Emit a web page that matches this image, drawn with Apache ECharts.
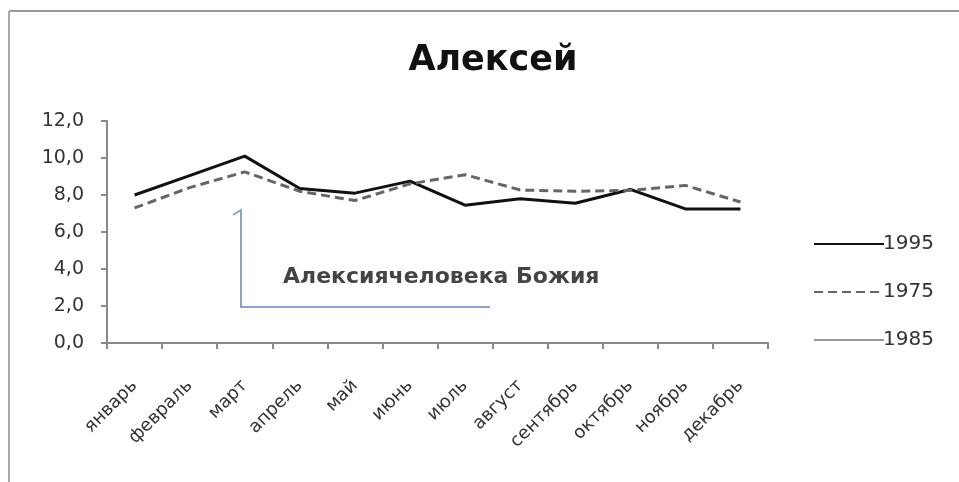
<!DOCTYPE html>
<html>
<head>
<meta charset="utf-8">
<script src="https://cdn.jsdelivr.net/npm/echarts@6/dist/echarts.min.js"></script>
<style>html,body{margin:0;padding:0;background:#fff}#c{width:959px;height:482px}</style>
</head>
<body>
<div id="c"></div>
<script>
var categories = ['январь','февраль','март','апрель','май','июнь','июль','август','сентябрь','октябрь','ноябрь','декабрь'];
var s1995 = [8.0, 9.05, 10.1, 8.35, 8.1, 8.75, 7.45, 7.8, 7.55, 8.3, 7.25, 7.25];
var s1975 = [7.3, 8.4, 9.25, 8.2, 7.7, 8.6, 9.1, 8.27, 8.2, 8.25, 8.52, 7.62];
var s1985 = [null, null, null, null, null, null, null, null, null, null, null, null];
var yTicks = [0, 2, 4, 6, 8, 10, 12];
var titleText = 'Алексей';
var noteText = 'Алексиячеловека Божия';

var chart = echarts.init(document.getElementById('c'));
chart.setOption({
  animation: false,
  backgroundColor: '#fff',
  title: {
    text: titleText, left: 488, top: 38, textAlign: 'center',
    textStyle: {fontFamily: 'DejaVu Sans', fontWeight: 'bold', fontSize: 35, color: '#111'}
  },
  grid: {left: 107, right: 191, top: 121, bottom: 139},
  legend: {
    orient: 'vertical', left: 808, top: 229,
    itemWidth: 70, itemHeight: 14, itemGap: 28,
    itemStyle: {opacity: 0},
    textStyle: {fontFamily: 'DejaVu Sans', fontSize: 20, color: '#333', padding: [0, 0, 0, -6]},
    data: ['1995', '1975', '1985']
  },
  xAxis: {
    type: 'category', data: categories, boundaryGap: true,
    axisLine: {lineStyle: {color: '#888', width: 2}},
    axisTick: {show: true, length: 6, lineStyle: {color: '#888', width: 2}},
    axisLabel: {rotate: 45, fontFamily: 'DejaVu Sans', fontSize: 18, color: '#333', margin: 40, interval: 0}
  },
  yAxis: {
    type: 'value', min: yTicks[0], max: yTicks[yTicks.length-1], interval: 2,
    axisLine: {show: true, lineStyle: {color: '#888', width: 2}},
    axisTick: {show: true, length: 6, lineStyle: {color: '#888', width: 2}},
    splitLine: {show: false},
    axisLabel: {fontFamily: 'DejaVu Sans', fontSize: 19, color: '#333', margin: 23,
      formatter: function(v){ return v.toFixed(1).replace('.', ','); }}
  },
  series: [
    {name: '1995', type: 'line', data: s1995, symbol: 'none', lineStyle: {color: '#111', width: 3}, itemStyle: {color: '#111'}},
    {name: '1975', type: 'line', data: s1975, symbol: 'none', lineStyle: {color: '#666', width: 3, type: [9, 5]}, itemStyle: {color: '#666'}},
    {name: '1985', type: 'line', data: s1985, symbol: 'none', lineStyle: {color: '#999', width: 2}, itemStyle: {color: '#999'}}
  ],
  graphic: [
    {type: 'line', shape: {x1: 9, y1: 11, x2: 959, y2: 11}, style: {stroke: '#999', lineWidth: 2}},
    {type: 'line', shape: {x1: 9, y1: 11, x2: 9, y2: 482}, style: {stroke: '#aaa', lineWidth: 2}},
    {type: 'polyline', shape: {points: [[233, 215], [241, 210], [241, 307], [490, 307]]}, style: {stroke: '#8ea2c8', lineWidth: 2, fill: null}},
    {type: 'text', left: 283, top: 266, style: {text: noteText, fontFamily: 'DejaVu Sans', fontWeight: 'bold', fontSize: 22, fill: '#444'}}
  ]
});
</script>
</body>
</html>
